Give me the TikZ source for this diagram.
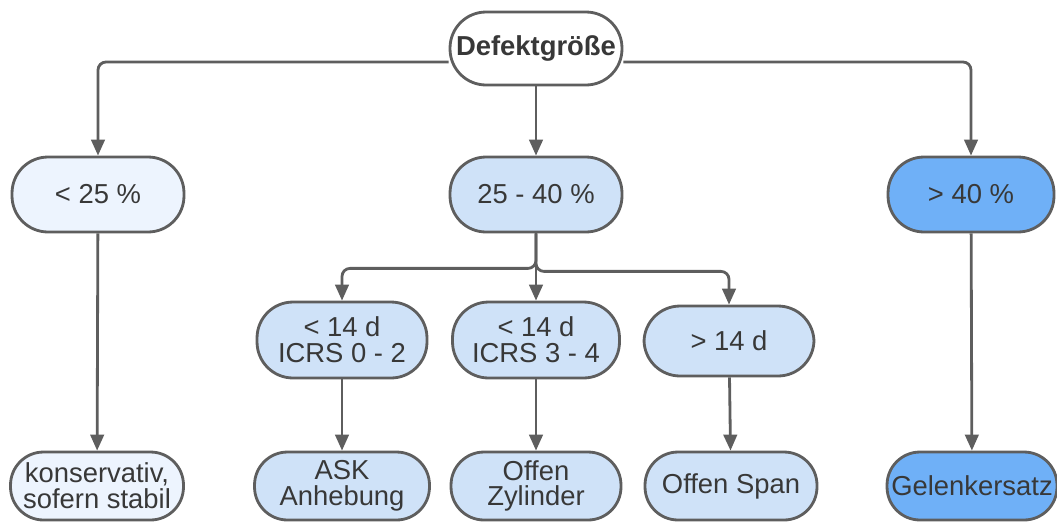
\documentclass[tikz,border=0pt]{standalone}
\usepackage{fontspec}
\setmainfont{Liberation Sans}
\usetikzlibrary{positioning, arrows.meta}
\definecolor{linegray}{HTML}{5E5E5E}
\definecolor{txtgray}{HTML}{383838}
\definecolor{paleblue}{HTML}{EDF4FE}
\definecolor{lightblue}{HTML}{CFE2F8}
\definecolor{deepblue}{HTML}{6FB0F7}

\begin{document}
\begin{tikzpicture}[
    x=0.02cm, y=-0.02cm,
    font=\fontsize{15.6}{14.6}\selectfont,
    >={Triangle[width=0.27cm, length=0.32cm]},
    pill/.style={rectangle, rounded corners=0.72cm, draw=linegray, line width=1.6pt, text=txtgray, align=center, inner sep=1pt, minimum width=3.44cm, minimum height=1.5cm},
    rootbox/.style={pill, fill=white, minimum height=1.46cm, font=\fontsize{15.6}{14.6}\selectfont\bfseries},
    lowbox/.style={pill, fill=paleblue},
    midbox/.style={pill, fill=lightblue},
    highbox/.style={pill, fill=deepblue},
    leaf/.style={minimum height=1.36cm, rounded corners=0.66cm},
    arr/.style={->, draw=linegray, line width=1.6pt, rounded corners=0.16cm}
]
\useasboundingbox (0,0) rectangle (1057,525);

% Root
\node[rootbox] (root) at (536, 48.5) {Defektgröße};

% Level 1
\node[lowbox]  (n_25)   at (98, 194.5)  {< 25 \%};
\node[midbox]  (n_2540) at (536, 194.5) {25 - 40 \%};
\node[highbox, minimum width=3.32cm] (n_40) at (971, 194.5) {> 40 \%};

% Level 2
\node[midbox, minimum width=3.4cm, minimum height=1.52cm]  (t_a) at (342, 340) {< 14 d\\ICRS 0 - 2};
\node[midbox, minimum width=3.34cm, minimum height=1.52cm] (t_b) at (536, 340) {< 14 d\\ICRS 3 - 4};
\node[midbox, minimum width=3.4cm, minimum height=1.4cm]   (t_c) at (729, 341) {> 14 d};

% Level 3
\node[lowbox, leaf, minimum width=3.46cm]  (r_kons) at (97, 486)  {konservativ,\\sofern stabil};
\node[midbox, leaf, minimum width=3.5cm]   (r_ask)  at (342, 486) {ASK\\Anhebung};
\node[midbox, leaf, minimum width=3.4cm]   (r_zyl)  at (536, 486) {Offen\\Zylinder};
\node[midbox, leaf, minimum width=3.44cm]  (r_span) at (731, 486) {Offen Span};
\node[highbox, leaf, minimum width=3.4cm]  (r_gel)  at (972, 486) {Gelenkersatz};

% Connectors from root
\draw[arr] ([yshift=-0.27cm]root.west) -| (n_25);
\draw[arr] ([yshift=-0.27cm]root.east) -| (n_40);
\draw[arr] (root) -- (n_2540);

% Split below 25 - 40 %
\coordinate (split_l) at ([yshift=-0.7cm]n_2540.south);
\coordinate (split_r) at ([yshift=-0.76cm]n_2540.south);
\draw[arr] (n_2540.south) -- (split_l) -| (t_a);
\draw[arr] (n_2540.south) -- (split_r) -| (t_c);
\draw[arr] (n_2540) -- (t_b);

% Down to results
\draw[arr] (n_25) -- (r_kons);
\draw[arr] (t_a) -- (r_ask);
\draw[arr] (t_b) -- (r_zyl);
\draw[arr] (t_c) -- (r_span);
\draw[arr] (n_40) -- (r_gel);

\end{tikzpicture}
\end{document}
